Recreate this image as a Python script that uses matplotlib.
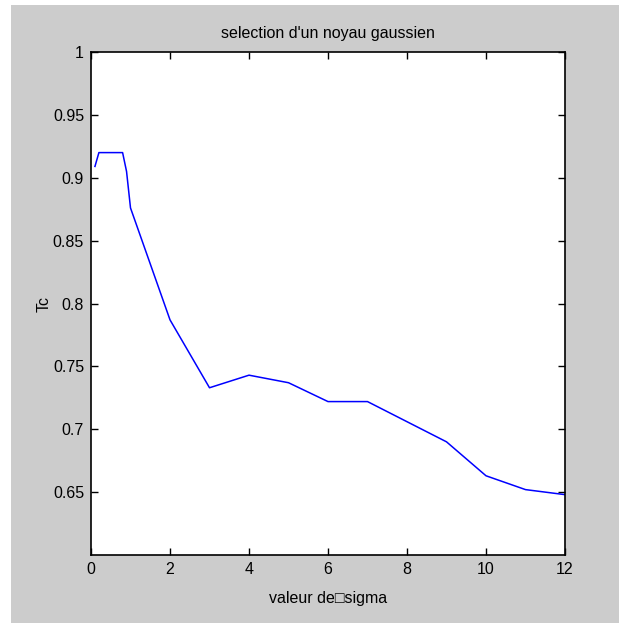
import matplotlib
matplotlib.use('Agg')
import matplotlib.pyplot as plt
from matplotlib.patches import Rectangle

plt.rcParams['font.family'] = ['Liberation Sans', 'DejaVu Sans']

# sigma values and classification rate
sigma = [0.1, 0.2, 0.3, 0.4, 0.5, 0.6, 0.7, 0.8, 0.9, 1, 2, 3, 4, 5, 6, 7, 8, 9, 10, 11, 12]
tc = [0.909, 0.92, 0.92, 0.92, 0.92, 0.92, 0.92, 0.92, 0.905, 0.876, 0.787, 0.733,
      0.743, 0.737, 0.722, 0.722, 0.706, 0.690, 0.663, 0.652, 0.648]

xticks = [0, 2, 4, 6, 8, 10, 12]
yticks = [0.65, 0.7, 0.75, 0.8, 0.85, 0.9, 0.95, 1]
ytick_labels = ['0.65', '0.7', '0.75', '0.8', '0.85', '0.9', '0.95', '1']

fig = plt.figure(figsize=(6.19, 6.23), dpi=100)
fig.patch.set_facecolor('white')
# gray matlab-like background, white strip left and top
bg = Rectangle((11 / 619, 0), 1 - 11 / 619, 1 - 5 / 623,
               transform=fig.transFigure, facecolor='#cccccc',
               edgecolor='none', zorder=-10)
fig.add_artist(bg)

ax = fig.add_axes([91 / 619, 1 - 555 / 623, 474 / 619, 503 / 623])
ax.set_facecolor('white')
ax.plot(sigma, tc, color='#0000ff', linewidth=1.1)

ax.set_xlim(0, 12)
ax.set_ylim(0.6, 1)
ax.set_xticks(xticks)
ax.set_yticks(yticks)
ax.set_yticklabels(ytick_labels)
ax.tick_params(direction='in', length=5, width=1, top=True, right=True,
               labelsize=11.5, pad=5, colors='black')
for s in ax.spines.values():
    s.set_linewidth(1.2)

ax.set_title("selection d'un noyau gaussien", fontsize=11.5, pad=10)
ax.set_xlabel('valeur de\u25a1sigma', fontsize=11.5, labelpad=10)
ax.set_ylabel('Tc', fontsize=11.5, labelpad=1)

fig.savefig('out.png', dpi=100, facecolor=fig.get_facecolor())
